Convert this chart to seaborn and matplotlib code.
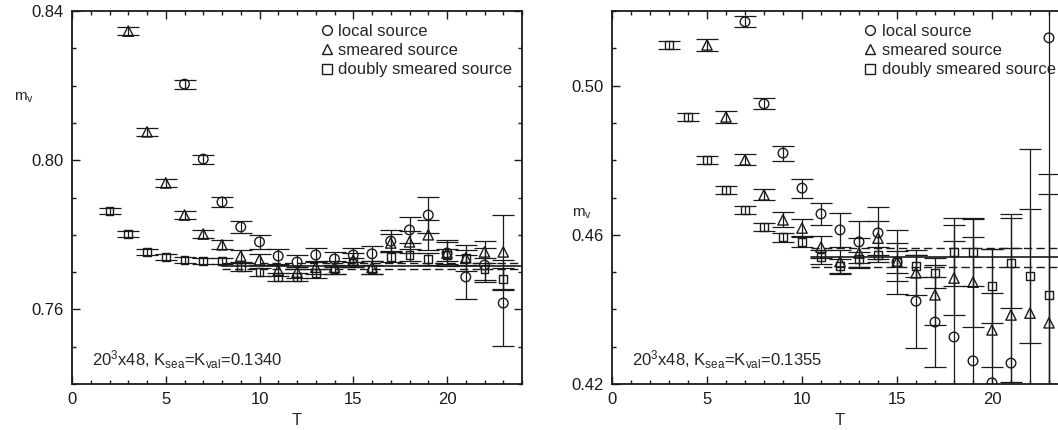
import numpy as np
import pandas as pd
import matplotlib
matplotlib.use("Agg")
import matplotlib.pyplot as plt
import seaborn as sns
from matplotlib.ticker import MultipleLocator, FixedLocator
from matplotlib.lines import Line2D

sns.set_theme(style="ticks")
plt.rcParams["font.family"] = ["Liberation Sans", "DejaVu Sans"]
plt.rcParams["mathtext.default"] = "regular"

# ---------------- left panel (K=0.1340) ----------------
L_T_local = list(range(6, 24))
L_local = [0.8204, 0.8003, 0.7888, 0.7821, 0.7781, 0.7743, 0.7727, 0.7746, 0.7735,
           0.7746, 0.7749, 0.7783, 0.7813, 0.7853, 0.7751, 0.7687, 0.7719, 0.7617]
L_local_err = [0.0012, 0.0012, 0.0013, 0.0015, 0.0018, 0.0020, 0.0018, 0.0018, 0.0020,
               0.0018, 0.0020, 0.0030, 0.0035, 0.0048, 0.0030, 0.0058, 0.0045, 0.0115]

L_T_smear = list(range(3, 24))
L_smear = [0.8346, 0.8076, 0.7939, 0.7853, 0.7802, 0.7773, 0.7743, 0.7733, 0.7705, 0.7700,
           0.7713, 0.7713, 0.7732, 0.7713, 0.7778, 0.7781, 0.7800, 0.7751, 0.7738, 0.7754, 0.7754]
L_smear_err = [0.0010, 0.0010, 0.0010, 0.0010, 0.0010, 0.0012, 0.0015, 0.0015, 0.0015, 0.0015,
               0.0018, 0.0018, 0.0018, 0.0018, 0.0025, 0.0030, 0.0040, 0.0035, 0.0035, 0.0030, 0.0100]

L_T_dbl = list(range(2, 24))
L_dbl = [0.7864, 0.7802, 0.7754, 0.7740, 0.7732, 0.7730, 0.7730, 0.7714, 0.7700, 0.7687, 0.7687,
         0.7697, 0.7708, 0.7727, 0.7708, 0.7741, 0.7746, 0.7735, 0.7746, 0.7738, 0.7708, 0.7682]
L_dbl_err = [0.0008, 0.0008, 0.0008, 0.0008, 0.0008, 0.0008, 0.0008, 0.0010, 0.0010, 0.0010, 0.0010,
             0.0012, 0.0012, 0.0012, 0.0012, 0.0015, 0.0015, 0.0015, 0.0015, 0.0020, 0.0030, 0.0030]

L_fit = [0.7716, 0.0009]
L_fit_range = [8.0, 24.0]

# ---------------- right panel (K=0.1355) ----------------
R_T_local = [7, 8, 9, 10, 11, 12, 13, 14, 15, 16, 17, 18, 19, 20, 21, 23]
R_local = [0.5171, 0.4951, 0.4819, 0.4725, 0.4656, 0.4613, 0.4581, 0.4605, 0.4527,
           0.4422, 0.4366, 0.4326, 0.4262, 0.4203, 0.4256, 0.5128]
R_local_err = [0.0015, 0.0015, 0.0020, 0.0025, 0.0030, 0.0045, 0.0056, 0.0070, 0.0085,
               0.0125, 0.0120, 0.0300, 0.0380, 0.0360, 0.0400, 0.1000]

R_T_smear = list(range(5, 24))
R_smear = [0.5109, 0.4916, 0.4801, 0.4707, 0.4640, 0.4618, 0.4567, 0.4528, 0.4551, 0.4591,
           0.4527, 0.4498, 0.4439, 0.4484, 0.4473, 0.4345, 0.4385, 0.4390, 0.4364]
R_smear_err = [0.0015, 0.0015, 0.0015, 0.0015, 0.0020, 0.0025, 0.0030, 0.0030, 0.0040, 0.0045,
               0.0050, 0.0060, 0.0080, 0.0100, 0.0120, 0.0100, 0.0180, 0.0440, 0.0400]

R_T_dbl = list(range(3, 24))
R_dbl = [0.5109, 0.4916, 0.4801, 0.4720, 0.4666, 0.4621, 0.4594, 0.4581, 0.4540, 0.4516,
         0.4535, 0.4546, 0.4527, 0.4516, 0.4498, 0.4554, 0.4554, 0.4463, 0.4524, 0.4490, 0.4439]
R_dbl_err = [0.0010, 0.0010, 0.0010, 0.0010, 0.0010, 0.0010, 0.0012, 0.0015, 0.0018, 0.0020,
             0.0020, 0.0020, 0.0030, 0.0030, 0.0040, 0.0090, 0.0090, 0.0100, 0.0120, 0.0180, 0.0270]

R_fit = [0.4540, 0.0025]
R_fit_range = [10.5, 24.0]

labels = ["local source", "smeared source", "doubly smeared source"]
markers = ["o", "^", "s"]
sizes = [48, 55, 30]

FS = 12

fig = plt.figure(figsize=(10.58, 4.30), dpi=100)
axL = fig.add_axes([72 / 1058, 1 - 384 / 430, 450 / 1058, 373 / 430])
axR = fig.add_axes([612 / 1058, 1 - 384 / 430, 456 / 1058, 373 / 430])


def draw_panel(ax, series, fit, fit_range, ylim, yticks, ann):
    for (T, v, e), lab, mk, s in zip(series, labels, markers, sizes):
        df = pd.DataFrame({"T": T, "m": v})
        ax.errorbar(T, v, yerr=e, fmt="none", ecolor="k", elinewidth=0.9,
                    capsize=8, capthick=0.9, zorder=2)
        sns.scatterplot(data=df, x="T", y="m", marker=mk, s=s, color="k",
                        ax=ax, legend=False, zorder=3)
        coll = ax.collections[-1]
        coll.set_facecolor("none")
        coll.set_edgecolor("k")
        coll.set_linewidth(1.0)
    c, d = fit
    ax.plot(fit_range, [c, c], color="k", lw=1.2, zorder=1)
    ax.plot(fit_range, [c + d, c + d], color="k", lw=1.0, ls=(0, (6, 3)), zorder=1)
    ax.plot(fit_range, [c - d, c - d], color="k", lw=1.0, ls=(0, (6, 3)), zorder=1)

    ax.set_xlim(0, 24)
    ax.set_ylim(*ylim)
    ax.xaxis.set_major_locator(FixedLocator([0, 5, 10, 15, 20]))
    ax.xaxis.set_minor_locator(MultipleLocator(1))
    ax.yaxis.set_major_locator(FixedLocator(yticks))
    ax.yaxis.set_minor_locator(MultipleLocator(0.01))
    ax.set_yticklabels([f"{t:.2f}" for t in yticks])
    ax.tick_params(which="both", direction="in", top=True, right=True,
                   labelsize=FS, colors="k", width=1.0)
    ax.tick_params(which="major", length=6, pad=6)
    ax.tick_params(which="minor", length=3)
    for sp in ax.spines.values():
        sp.set_linewidth(1.3)
        sp.set_color("k")
    ax.set_facecolor("white")
    ax.set_xlabel("T", fontsize=FS, labelpad=4)
    ax.set_ylabel("")

    handles = [Line2D([], [], marker=m, ls="none", mfc="none", mec="k", mew=1.0, ms=7)
               for m in markers]
    ax.legend(handles, labels, loc="upper left", bbox_to_anchor=(0.555, 0.965),
              frameon=False, fontsize=FS, handlelength=0.6, handletextpad=0.4,
              labelspacing=0.25, borderpad=0, borderaxespad=0)
    ax.text(0.044, 0.064, ann, transform=ax.transAxes, fontsize=FS,
            ha="left", va="center")


draw_panel(axL,
           [(L_T_local, L_local, L_local_err),
            (L_T_smear, L_smear, L_smear_err),
            (L_T_dbl, L_dbl, L_dbl_err)],
           L_fit, L_fit_range, (0.74, 0.84), [0.76, 0.80, 0.84],
           r"20$^3$x48, K$_{sea}$=K$_{val}$=0.1340")
draw_panel(axR,
           [(R_T_local, R_local, R_local_err),
            (R_T_smear, R_smear, R_smear_err),
            (R_T_dbl, R_dbl, R_dbl_err)],
           R_fit, R_fit_range, (0.42, 0.52), [0.42, 0.46, 0.50],
           r"20$^3$x48, K$_{sea}$=K$_{val}$=0.1355")

fig.text(14 / 1058, 1 - 98 / 430, r"m$_v$", fontsize=FS - 1, ha="left", va="center")
fig.text(572 / 1058, 1 - 214 / 430, r"m$_v$", fontsize=FS - 1, ha="left", va="center")

fig.savefig("out.png", dpi=100, facecolor="white")
